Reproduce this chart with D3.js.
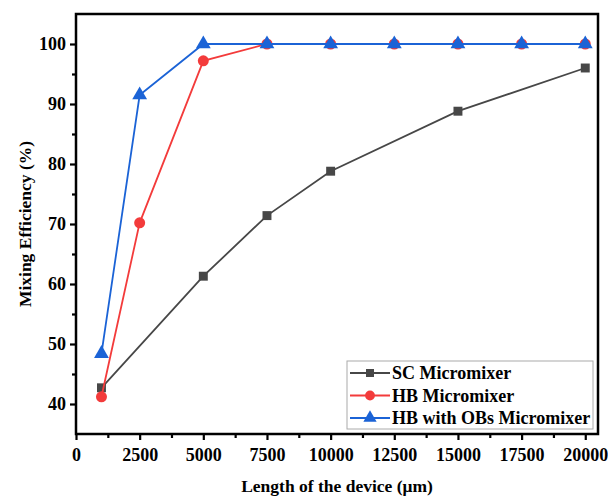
<!DOCTYPE html>
<html>
<head>
<meta charset="utf-8">
<script src="https://cdn.jsdelivr.net/npm/d3@7"></script>
<style>
  body { margin: 0; background: #fff; }
  text { font-family: "Liberation Serif", "Times New Roman", serif; font-weight: bold; }
</style>
</head>
<body>
<div id="chart_container"></div>
<script>
// data
var lengths = [1000, 2500, 5000, 7500, 10000, 12500, 15000, 17500, 20000];
var scLengths = [1000, 5000, 7500, 10000, 15000, 20000];
var scValues = [42.7, 61.3, 71.4, 78.8, 88.8, 96.0];
var hbValues = [41.2, 70.2, 97.2, 100, 100, 100, 100, 100, 100];
var obValues = [48.4, 91.5, 100, 100, 100, 100, 100, 100, 100];
var xTicks = [0, 2500, 5000, 7500, 10000, 12500, 15000, 17500, 20000];
var yTicks = [40, 50, 60, 70, 80, 90, 100];
var seriesNames = ["SC Micromixer", "HB Micromixer", "HB with OBs Micromixer"];

var margin = { top: 14, right: 10, bottom: 64, left: 76 },
    width = 598 - margin.left,
    height = 434 - margin.top;

var x = d3.scaleLinear().domain([0, 20500]).range([0, width]);
var y = d3.scaleLinear().domain([35, 105]).range([height, 0]);

var svg = d3.select("#chart_container").append("svg")
    .attr("width", 608)
    .attr("height", 498);
var g = svg.append("g")
    .attr("transform", "translate(" + margin.left + "," + margin.top + ")");

var series = [
    { name: seriesNames[0], color: "#474747", shape: d3.symbolSquare, size: 80,
      data: scLengths.map(function(d, i) { return { x: d, y: scValues[i] }; }) },
    { name: seriesNames[1], color: "#f33b3b", shape: d3.symbolCircle, size: 95,
      data: lengths.map(function(d, i) { return { x: d, y: hbValues[i] }; }) },
    { name: seriesNames[2], color: "#1b63d6", shape: d3.symbolTriangle, size: 95,
      data: lengths.map(function(d, i) { return { x: d, y: obValues[i] }; }) }
];

var line = d3.line()
    .x(function(d) { return x(d.x); })
    .y(function(d) { return y(d.y); });

series.forEach(function(s) {
    g.append("path")
        .datum(s.data)
        .attr("fill", "none")
        .attr("stroke", s.color)
        .attr("stroke-width", 1.8)
        .attr("d", line);
    g.selectAll(null)
        .data(s.data)
        .enter().append("path")
        .attr("transform", function(d) { return "translate(" + x(d.x) + "," + y(d.y) + ")"; })
        .attr("d", d3.symbol().type(s.shape).size(s.size))
        .attr("fill", s.color);
});

// axes
var xAxis = g.append("g")
    .attr("transform", "translate(0," + height + ")")
    .call(d3.axisBottom(x).tickValues(xTicks).tickSize(6).tickPadding(8).tickFormat(d3.format("d")));
var xMinor = g.append("g")
    .attr("transform", "translate(0," + height + ")")
    .call(d3.axisBottom(x).tickValues(xTicks.slice(0, -1).map(function(d) { return d + 1250; }))
        .tickSize(4).tickFormat(""));
var yAxis = g.append("g")
    .call(d3.axisLeft(y).tickValues(yTicks).tickSize(6).tickPadding(4));
var yMinor = g.append("g")
    .call(d3.axisLeft(y).tickValues([45, 55, 65, 75, 85, 95]).tickSize(4).tickFormat(""));

[xAxis, xMinor, yAxis, yMinor].forEach(function(a) {
    a.select(".domain").remove();
    a.selectAll(".tick line").attr("stroke", "#000").attr("stroke-width", 2.2);
    a.selectAll(".tick text")
        .attr("fill", "#000")
        .style("font-size", "18px")
        .style("font-family", "Liberation Serif, Times New Roman, serif")
        .style("font-weight", "bold");
});

// frame
g.append("rect")
    .attr("width", width)
    .attr("height", height)
    .attr("fill", "none")
    .attr("stroke", "#000")
    .attr("stroke-width", 2.5);

// axis titles
svg.append("text")
    .attr("x", 337)
    .attr("y", 492)
    .attr("text-anchor", "middle")
    .style("font-size", "17.5px")
    .text("Length of the device (μm)");
svg.append("text")
    .attr("transform", "translate(31,224) rotate(-90)")
    .attr("text-anchor", "middle")
    .style("font-size", "17.5px")
    .text("Mixing Efficiency (%)");

// legend
var legend = svg.append("g").attr("transform", "translate(347,361)");
legend.append("rect")
    .attr("width", 246)
    .attr("height", 68)
    .attr("fill", "#fff")
    .attr("stroke", "#aaa")
    .attr("stroke-width", 1);
series.forEach(function(s, i) {
    var row = legend.append("g").attr("transform", "translate(0," + (12 + i * 22.5) + ")");
    row.append("line")
        .attr("x1", 3).attr("x2", 43)
        .attr("stroke", s.color).attr("stroke-width", 1.8);
    row.append("path")
        .attr("transform", "translate(23,0)")
        .attr("d", d3.symbol().type(s.shape).size(s.size * 0.8))
        .attr("fill", s.color);
    row.append("text")
        .attr("x", 45)
        .attr("y", 6)
        .style("font-size", "18px")
        .text(s.name);
});
</script>
</body>
</html>
